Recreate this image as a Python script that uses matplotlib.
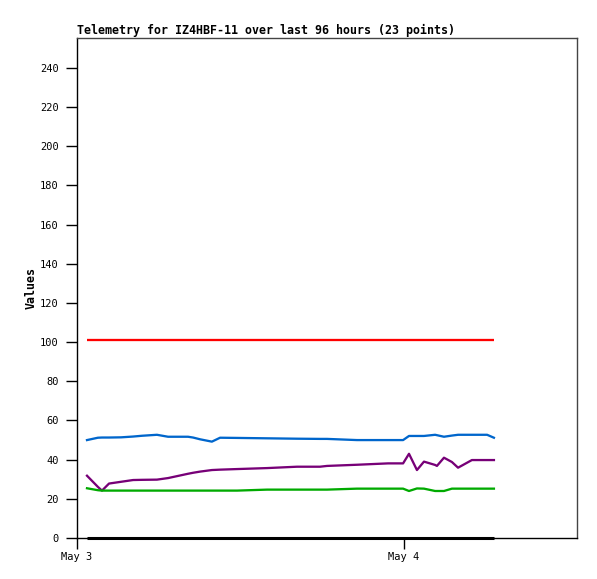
import matplotlib
matplotlib.use("Agg")
import matplotlib.pyplot as plt
import matplotlib.dates as mdates
import pandas as pd

times = ["2024-05-03 00:44", "2024-05-03 01:32", "2024-05-03 01:50", "2024-05-03 02:21",
         "2024-05-03 03:14", "2024-05-03 04:07", "2024-05-03 04:46", "2024-05-03 05:52",
         "2024-05-03 06:41", "2024-05-03 08:09", "2024-05-03 08:31", "2024-05-03 09:02",
         "2024-05-03 09:54", "2024-05-03 10:30", "2024-05-03 11:45", "2024-05-03 13:57",
         "2024-05-03 16:09", "2024-05-03 17:50", "2024-05-03 18:21", "2024-05-03 20:33",
         "2024-05-03 22:50", "2024-05-03 23:56", "2024-05-04 00:22", "2024-05-04 00:57",
         "2024-05-04 01:28", "2024-05-04 02:17", "2024-05-04 02:25", "2024-05-04 02:56",
         "2024-05-04 03:31", "2024-05-04 03:58", "2024-05-04 04:59", "2024-05-04 06:06",
         "2024-05-04 06:36"]

red = [101.1] * len(times)
blue = [50.0, 51.2, 51.3, 51.3, 51.4, 51.8, 52.2, 52.7, 51.7, 51.7, 51.3, 50.4,
        49.2, 51.2, 51.1, 50.9, 50.7, 50.6, 50.6, 50.0, 50.0, 50.0, 52.1, 52.1,
        52.1, 52.7, 52.5, 51.7, 52.3, 52.7, 52.7, 52.7, 51.2]
purple = [31.8, 26.1, 24.2, 27.8, 28.7, 29.6, 29.7, 29.8, 30.6, 32.8, 33.3, 33.9,
          34.7, 34.9, 35.2, 35.7, 36.4, 36.4, 36.8, 37.4, 38.1, 38.1, 43.0, 34.7,
          39.0, 37.3, 36.8, 41.0, 38.8, 35.9, 39.8, 39.8, 39.8]
green = [25.4, 24.4, 24.2, 24.2, 24.2, 24.2, 24.2, 24.2, 24.2, 24.2, 24.2, 24.2,
         24.2, 24.2, 24.2, 24.7, 24.7, 24.7, 24.7, 25.2, 25.2, 25.2, 24.0, 25.3,
         25.2, 24.0, 24.0, 24.0, 25.2, 25.2, 25.2, 25.2, 25.2]
black = [0.0] * len(times)

yticks = list(range(0, 241, 20))
title = "Telemetry for IZ4HBF-11 over last 96 hours (23 points)"
ylabel = "Values"

t = pd.to_datetime(times)

W, H = 597, 579
fig = plt.figure(figsize=(W / 100, H / 100), dpi=100)
ax = fig.add_axes([77 / W, 1 - 538 / H, 500 / W, 500 / H])

mono = "DejaVu Sans Mono"
lw = 1.65
ax.plot(t, red, color="#ff0000", lw=lw, solid_capstyle="butt")
ax.plot(t, blue, color="#0066cc", lw=lw)
ax.plot(t, purple, color="#770077", lw=lw)
ax.plot(t, green, color="#00aa00", lw=lw)
ax.plot(t, black, color="#000000", lw=2.2, clip_on=False, solid_capstyle="butt")

x0 = pd.Timestamp("2024-05-03 00:00")
ax.set_xlim(x0, x0 + pd.Timedelta(days=500 / 327))
ax.set_ylim(0, 255.3)

ax.set_yticks(yticks)
ax.set_yticklabels([str(v) for v in yticks], fontfamily=mono, fontsize=7.5)
ax.xaxis.set_major_locator(mdates.DayLocator())
ax.xaxis.set_major_formatter(mdates.DateFormatter("%b %-d"))
for lab in ax.get_xticklabels():
    lab.set_fontfamily(mono)
ax.tick_params(axis="x", labelsize=7.5, length=8, width=1, pad=2, direction="out")
ax.tick_params(axis="y", labelsize=7.5, length=8, width=1, pad=5, direction="out")

ax.spines["left"].set_color("#000000")
ax.spines["bottom"].set_color("#000000")
ax.spines["top"].set_color("#444444")
ax.spines["right"].set_color("#444444")
for s in ax.spines.values():
    s.set_linewidth(1)

ax.set_title(title, loc="left", fontfamily=mono, fontweight="bold", fontsize=8.37, pad=3)
ax.set_ylabel(ylabel, fontfamily=mono, fontweight="bold", fontsize=8.37, labelpad=1.5)

fig.savefig("out.png", dpi=100)
